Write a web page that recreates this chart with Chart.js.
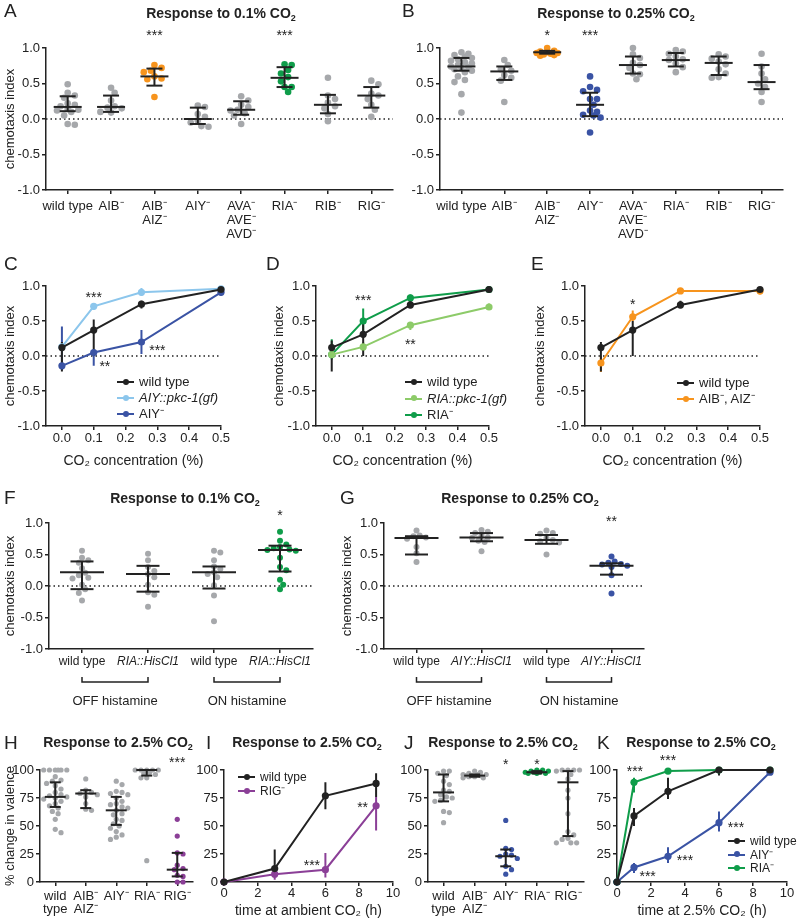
<!DOCTYPE html>
<html>
<head>
<meta charset="utf-8">
<title>Interneuron responses to CO2</title>
<script src="https://cdn.jsdelivr.net/npm/chart.js@4.4.1/dist/chart.umd.min.js"></script>
<style>
  body { margin: 0; background: #fff; }
  #fig { position: relative; width: 800px; height: 924px; overflow: hidden; font-family: "Liberation Sans", Arial, sans-serif; color: #222; }
  #fig canvas { position: absolute; }
  .letter { position: absolute; font-size: 19px; line-height: 19px; }
  .title { position: absolute; font-size: 14px; line-height: 14px; font-weight: bold; white-space: nowrap; transform: translateX(-50%); }
  .title sub { font-size: 9px; line-height: 0; vertical-align: -3px; }
  .legend { position: absolute; font-size: 13px; line-height: 16px; white-space: nowrap; }
  .legend.small { font-size: 12px; }
  .legend .mark { position: absolute; left: 0; top: 7px; width: 17px; height: 2px; }
  .legend .mark::after { content: ''; position: absolute; left: 5.5px; top: -2.5px; width: 6px; height: 6px; border-radius: 50%; background: inherit; }
  .legend .txt { position: absolute; left: 22px; top: 0; }
</style>
</head>
<body>
<div id="fig"></div>
<script>
// ---- tick labels / categories ----
const neuronCats = [['wild type'], ['AIB⁻'], ['AIB⁻', 'AIZ⁻'], ['AIY⁻'], ['AVA⁻', 'AVE⁻', 'AVD⁻'], ['RIA⁻'], ['RIB⁻'], ['RIG⁻']];
const fCats = [['wild type'], ['RIA::HisCl1'], ['wild type'], ['RIA::HisCl1']];
const gCats = [['wild type'], ['AIY::HisCl1'], ['wild type'], ['AIY::HisCl1']];
const valenceCats = [['wild', 'type'], ['AIB⁻', 'AIZ⁻'], ['AIY⁻'], ['RIA⁻'], ['RIG⁻']];
const ciTicks = [-1, -0.5, 0, 0.5, 1];
const pctTicks = [0, 25, 50, 75, 100];
const concX = [0, 0.1, 0.25, 0.5];
const concTicks = [0, 0.1, 0.2, 0.3, 0.4, 0.5];
const timeI = [0, 3, 6, 9];
const timeK = [0, 1, 3, 6, 9];
const timeTicks = [0, 2, 4, 6, 8, 10];

// ---- A: 0.1% CO2 ----
const aPoints = [
  [0.49, 0.37, 0.33, 0.30, 0.22, 0.20, 0.18, 0.14, 0.13, 0.12, 0.10, 0.05, -0.07, -0.08],
  [0.44, 0.37, 0.26, 0.18, 0.16, 0.15, 0.10, 0.09],
  [0.76, 0.72, 0.68, 0.66, 0.60, 0.57, 0.56, 0.31],
  [0.19, 0.17, 0.07, 0.03, -0.02, -0.05, -0.10, -0.11],
  [0.32, 0.26, 0.20, 0.17, 0.13, 0.12, 0.08, 0.05, -0.07],
  [0.77, 0.76, 0.69, 0.64, 0.59, 0.53, 0.45, 0.45, 0.38],
  [0.58, 0.33, 0.28, 0.23, 0.18, 0.15, 0.07, -0.03],
  [0.54, 0.49, 0.36, 0.33, 0.28, 0.20, 0.13, 0.03]
];
const aMedian = [0.17, 0.17, 0.60, 0.00, 0.13, 0.58, 0.20, 0.33];
const aLow = [0.11, 0.10, 0.47, -0.07, 0.06, 0.45, 0.08, 0.16];
const aHigh = [0.32, 0.33, 0.71, 0.16, 0.25, 0.73, 0.34, 0.45];
const aStars = [{x: 2, y: 1.21, text: '***'}, {x: 5, y: 1.21, text: '***'}];

// ---- B: 0.25% CO2 ----
const bPoints = [
  [0.94, 0.92, 0.90, 0.88, 0.86, 0.84, 0.82, 0.80, 0.78, 0.76, 0.74, 0.73, 0.72, 0.70, 0.68, 0.66, 0.60, 0.55, 0.52, 0.35, 0.09],
  [0.83, 0.76, 0.70, 0.68, 0.62, 0.58, 0.54, 0.24],
  [1.00, 0.96, 0.95, 0.94, 0.93, 0.93, 0.92, 0.91, 0.90, 0.89],
  [0.60, 0.45, 0.41, 0.39, 0.28, 0.28, 0.20, 0.12, 0.10, 0.06, 0.05, 0.02, -0.19],
  [1.00, 0.91, 0.86, 0.79, 0.76, 0.72, 0.64, 0.63, 0.56],
  [0.97, 0.95, 0.92, 0.88, 0.84, 0.83, 0.78, 0.73, 0.66],
  [0.91, 0.88, 0.85, 0.81, 0.77, 0.70, 0.64, 0.59, 0.58],
  [0.92, 0.74, 0.64, 0.56, 0.50, 0.45, 0.38, 0.24]
];
const bMedian = [0.74, 0.67, 0.94, 0.20, 0.76, 0.83, 0.79, 0.52];
const bLow = [0.68, 0.55, 0.92, 0.04, 0.64, 0.74, 0.62, 0.42];
const bHigh = [0.86, 0.74, 0.96, 0.37, 0.88, 0.93, 0.88, 0.76];
const bStars = [{x: 2, y: 1.21, text: '*'}, {x: 3, y: 1.21, text: '***'}];

// ---- C: AIY dose response ----
const cWt = [0.12, 0.37, 0.74, 0.95], cWtLo = [-0.22, 0.00, 0.68, 0.92], cWtHi = [0.20, 0.52, 0.79, 0.98];
const cGf = [0.13, 0.71, 0.91, 0.96], cGfLo = [0.10, 0.66, 0.86, 0.93], cGfHi = [0.16, 0.75, 0.97, 0.98];
const cAiy = [-0.14, 0.05, 0.20, 0.91], cAiyLo = [-0.20, -0.14, 0.03, 0.86], cAiyHi = [0.42, 0.08, 0.37, 0.97];
const cStars = [{x: 0.1, y: 0.87, text: '***'}, {x: 0.135, y: -0.11, text: '**'}, {x: 0.3, y: 0.11, text: '***'}];

// ---- D: RIA dose response ----
const dWt = [0.12, 0.31, 0.73, 0.95], dWtLo = [-0.22, 0.00, 0.68, 0.92], dWtHi = [0.22, 0.47, 0.79, 0.98];
const dGf = [0.02, 0.13, 0.44, 0.70], dGfLo = [0.00, 0.07, 0.37, 0.66], dGfHi = [0.05, 0.20, 0.48, 0.75];
const dRia = [0.02, 0.50, 0.83, 0.95], dRiaLo = [-0.05, 0.35, 0.75, 0.92], dRiaHi = [0.24, 0.68, 0.88, 0.98];
const dStars = [{x: 0.1, y: 0.83, text: '***'}, {x: 0.25, y: 0.2, text: '**'}];

// ---- E: AIB/AIZ dose response ----
const eWt = [0.12, 0.37, 0.73, 0.95], eWtLo = [-0.22, 0.00, 0.68, 0.92], eWtHi = [0.20, 0.50, 0.79, 0.98];
const eAib = [-0.10, 0.56, 0.93, 0.93], eAibLo = [-0.23, 0.50, 0.91, 0.88], eAibHi = [0.00, 0.65, 0.95, 0.96];
const eStars = [{x: 0.1, y: 0.77, text: '*'}];

// ---- F: RIA silencing, 0.1% CO2 ----
const fPoints = [
  [0.56, 0.45, 0.41, 0.37, 0.28, 0.21, 0.17, 0.13, 0.12, 0.02, -0.05, -0.11, -0.23],
  [0.51, 0.41, 0.30, 0.24, 0.19, 0.14, 0.02, -0.10, -0.14, -0.33],
  [0.56, 0.53, 0.41, 0.31, 0.27, 0.22, 0.19, 0.14, 0.01, -0.15, -0.56],
  [0.86, 0.72, 0.66, 0.62, 0.60, 0.58, 0.57, 0.56, 0.45, 0.30, 0.25, 0.10, 0.02, -0.05]
];
const fMedian = [0.22, 0.19, 0.22, 0.57];
const fLow = [-0.05, -0.09, -0.04, 0.23];
const fHigh = [0.39, 0.32, 0.31, 0.64];
const fStars = [{x: 3, y: 1.15, text: '*'}];

// ---- G: AIY silencing, 0.25% CO2 ----
const gPoints = [
  [0.88, 0.80, 0.79, 0.77, 0.75, 0.62, 0.52, 0.38],
  [0.89, 0.86, 0.84, 0.80, 0.77, 0.76, 0.72, 0.70, 0.55],
  [0.88, 0.84, 0.83, 0.76, 0.73, 0.71, 0.69, 0.50],
  [0.47, 0.39, 0.37, 0.35, 0.34, 0.32, 0.30, 0.17, -0.12]
];
const gMedian = [0.76, 0.77, 0.73, 0.32];
const gLow = [0.50, 0.71, 0.67, 0.18];
const gHigh = [0.79, 0.84, 0.81, 0.36];
const gStars = [{x: 3, y: 1.06, text: '**'}];
const histGroups = [{from: 0, to: 1, label: 'OFF histamine'}, {from: 2, to: 3, label: 'ON histamine'}];

// ---- H: valence change, 2.5% CO2 ----
const hPoints = [
  [100, 100, 100, 100, 100, 100, 94, 91, 90, 88, 86, 83, 80, 78, 77, 76, 75, 74, 72, 70, 68, 66, 63, 61, 56, 47, 44],
  [92, 82, 80, 79, 78, 76, 70, 65, 64],
  [90, 87, 81, 80, 79, 78, 75, 72, 70, 69, 67, 66, 64, 61, 60, 56, 55, 52, 50, 48, 45, 42, 40, 38],
  [100, 100, 100, 100, 100, 98, 97, 96, 93, 93, 19],
  [56, 41, 26, 25, 15, 12, 11, 6, 5, 0, 0]
];
const hMedian = [76, 79, 64, 100, 11];
const hLow = [67, 66, 51, 95, 5];
const hHigh = [89, 82, 76, 100, 26];
const hStars = [{x: 4, y: 109, text: '***'}];

// ---- I: recovery at ambient CO2 ----
const iWt = [0, 12, 77, 88], iWtLo = [0, 10, 65, 76], iWtHi = [0, 29, 89, 97];
const iRig = [0, 7, 11, 68], iRigLo = [0, 2, 4, 46], iRigHi = [0, 12, 26, 76];
const iStars = [{x: 5.2, y: 17, text: '***'}, {x: 8.2, y: 69, text: '**'}];

// ---- J: valence change, 2.5% CO2 ----
const jPoints = [
  [99, 99, 97, 95, 90, 87, 82, 81, 78, 76, 75, 73, 72, 63, 62, 53],
  [99, 98, 97, 96, 96, 96, 95, 95, 95, 94, 94, 93, 93],
  [55, 30, 29, 25, 24, 23, 21, 14, 11, 7],
  [100, 100, 99, 99, 98, 98, 98, 97, 97, 97],
  [100, 100, 100, 100, 99, 96, 92, 82, 75, 61, 45, 42, 39, 38, 35, 35, 35]
];
const jMedian = [80, 95, 23, 98, 89];
const jLow = [72, 94, 14, 97, 41];
const jHigh = [96, 96, 29, 99, 99];
const jStars = [{x: 2, y: 107, text: '*'}, {x: 3, y: 107, text: '*'}];

// ---- K: time course at 2.5% CO2 ----
const kWt = [0, 59, 81, 100, 100], kWtLo = [0, 50, 74, 95, 100], kWtHi = [0, 66, 93, 100, 100];
const kAiy = [0, 13, 23, 53, 98], kAiyLo = [0, 8, 17, 45, 97], kAiyHi = [0, 17, 31, 63, 99];
const kRia = [0, 89, 99, 100, 100], kRiaLo = [0, 80, 98, 100, 100], kRiaHi = [0, 93, 100, 100, 100];
const kStars = [{x: 1.05, y: 101, text: '***'}, {x: 3, y: 111, text: '***'}, {x: 7, y: 51, text: '***'},
                {x: 4, y: 21, text: '***'}, {x: 1.8, y: 7, text: '***'}];

// ---- styling ----
const INK = '#222';
const GRAY = '#a6a8ab', ORANGE = '#f7941d', GREEN = '#0f9d4a', BLUE = '#3a53a4',
      LIGHTBLUE = '#8cc6ec', LIGHTGREEN = '#8dcb69', PURPLE = '#8b3f97';
const FONT = '"Liberation Sans", Arial, sans-serif';
Chart.defaults.font.family = FONT;
Chart.defaults.color = INK;

const fig = document.getElementById('fig');

// zero line, significance stars and group brackets, all placed through the chart scales
const annotate = {
  id: 'annotate',
  beforeDatasetsDraw(chart, args, opts) {
    if (!opts.zero) return;
    const {ctx, chartArea: a, scales: {y}} = chart;
    const py = y.getPixelForValue(0);
    ctx.save();
    ctx.strokeStyle = INK;
    ctx.lineWidth = 1.5;
    ctx.setLineDash([1.5, 3]);
    ctx.beginPath();
    ctx.moveTo(a.left, py);
    ctx.lineTo(a.right, py);
    ctx.stroke();
    ctx.restore();
  },
  afterDatasetsDraw(chart, args, opts) {
    const {ctx, chartArea: a, scales: {x, y}} = chart;
    ctx.save();
    ctx.fillStyle = INK;
    ctx.strokeStyle = INK;
    ctx.lineWidth = 1.5;
    ctx.textAlign = 'center';
    ctx.textBaseline = 'middle';
    ctx.font = '14px ' + FONT;
    (opts.stars || []).forEach(s => {
      ctx.fillText(s.text, x.getPixelForValue(s.x), y.getPixelForValue(s.y) + 3);
    });
    ctx.font = '13px ' + FONT;
    (opts.brackets || []).forEach(g => {
      const x0 = x.getPixelForValue(g.from), x1 = x.getPixelForValue(g.to);
      const yb = a.bottom + 33;
      ctx.beginPath();
      ctx.moveTo(x0, yb - 5);
      ctx.lineTo(x0, yb);
      ctx.lineTo(x1, yb);
      ctx.lineTo(x1, yb - 5);
      ctx.stroke();
      ctx.fillText(g.label, (x0 + x1) / 2, a.bottom + 52);
    });
    ctx.restore();
  }
};

// horizontal spread of dots (beeswarm), kept within +-limit px of the category centre
function swarm(values, pxPerUnit, dot, limit) {
  const placed = [];
  const offsets = new Array(values.length);
  const minDist = dot * 0.85;
  const order = values.map((v, i) => i).sort((a, b) => values[b] - values[a]);
  order.forEach(i => {
    const py = values[i] * pxPerUnit;
    let best = 0, bestDist = -1;
    for (let k = 0; ; k++) {
      const dx = (k % 2 ? 1 : -1) * Math.ceil(k / 2) * dot * 0.5;
      if (Math.abs(dx) > limit) break;
      const d = placed.reduce((m, p) => Math.min(m, Math.hypot(p.x - dx, p.y - py)), Infinity);
      if (d >= minDist) { best = dx; bestDist = d; break; }
      if (d > bestDist) { best = dx; bestDist = d; }
    }
    placed.push({x: best, y: py});
    offsets[i] = best;
  });
  return offsets;
}

function axis(o) {
  return {
    type: 'linear', min: o.min, max: o.max,
    afterBuildTicks: s => { s.ticks = o.ticks.map(v => ({value: v})); },
    afterFit: o.fit,
    grid: {display: true, drawOnChartArea: false, drawTicks: true, tickLength: 4, color: INK, lineWidth: 1.5},
    border: {display: true, color: INK, width: 1.5},
    ticks: {color: INK, padding: o.pad, autoSkip: false, maxRotation: 0, minRotation: 0,
            font: o.font, callback: o.label},
    title: o.title ? {display: true, text: o.title, color: INK, padding: 0, font: {size: o.titleSize}} : {display: false}
  };
}

function mount(p, datasets) {
  const left = Math.round(p.yTitleX ? p.yTitleX - 7.8 : p.box.l - 34);
  const top = Math.round(p.box.t - p.padT);
  const width = Math.round(p.box.r + (p.padR || 12) - left);
  const height = Math.round(p.box.b + p.xH - top);
  const canvas = document.createElement('canvas');
  canvas.width = width;
  canvas.height = height;
  canvas.style.left = left + 'px';
  canvas.style.top = top + 'px';
  canvas.style.width = width + 'px';
  canvas.style.height = height + 'px';
  fig.appendChild(canvas);

  const xAxis = axis({
    min: p.xMin, max: p.xMax, ticks: p.xTicks, pad: p.xPad,
    font: p.xFont, label: p.xLabel, title: p.xTitle, titleSize: 14,
    fit: s => { s.height = top + height - p.box.b; }
  });
  const yAxis = axis({
    min: p.yMin, max: p.yMax, ticks: p.yTicks, pad: 2,
    font: {size: 13}, label: p.yLabel, title: p.yTitle, titleSize: 13,
    fit: s => { s.width = p.box.l - left; }
  });
  datasets.forEach(d => { d.clip = false; });

  return new Chart(canvas, {
    type: 'scatter',
    data: {datasets},
    options: {
      responsive: false, animation: false, devicePixelRatio: 1, events: [],
      layout: {padding: {top: p.box.t - top, right: left + width - p.box.r, left: 0, bottom: 0}},
      scales: {x: xAxis, y: yAxis},
      plugins: {
        legend: {display: false}, tooltip: {enabled: false},
        annotate: {zero: !!p.zero, stars: p.stars || [], brackets: p.brackets || []}
      }
    },
    plugins: [annotate]
  });
}

function dotPanel(p) {
  const n = p.cats.length;
  const catPx = (p.box.r - p.box.l) / n;
  const pxPerUnit = (p.box.b - p.box.t) / (p.yMax - p.yMin);
  const dots = [];
  p.points.forEach((vals, i) => {
    const off = swarm(vals, pxPerUnit, 2 * p.dotR + 0.6, p.spread);
    vals.forEach((v, k) => dots.push({x: i + off[k] / catPx, y: v, c: i}));
  });
  const medians = p.median.map((m, i) => ({x: i, y: m}));
  const caps = [], whiskers = [];
  p.low.forEach((lo, i) => {
    caps.push({x: i, y: lo}, {x: i, y: p.high[i]});
    whiskers.push({x: i, y: lo}, {x: i, y: p.high[i]}, {x: i, y: null});
  });
  const datasets = [
    {data: medians, pointStyle: 'line', pointRadius: p.medHalf, pointBorderWidth: 2, pointBorderColor: INK},
    {data: caps, pointStyle: 'line', pointRadius: p.capHalf, pointBorderWidth: 2, pointBorderColor: INK},
    {data: whiskers, showLine: true, borderColor: INK, borderWidth: 2, pointRadius: 0},
    {data: dots, pointRadius: p.dotR, pointBorderWidth: 0,
     pointBackgroundColor: ctx => ctx.raw ? p.colors[ctx.raw.c] : GRAY}
  ];
  p.xMin = -0.5;
  p.xMax = n - 0.5;
  p.xTicks = p.cats.map((c, i) => i);
  p.xLabel = v => p.cats[v];
  return mount(p, datasets);
}

function linePanel(p) {
  const datasets = [];
  p.series.forEach(s => datasets.push({
    data: s.y.map((v, i) => ({x: p.xs[i], y: v})),
    showLine: true, borderColor: s.color, borderWidth: 2,
    pointRadius: 3.6, pointBackgroundColor: s.color, pointBorderWidth: 0
  }));
  p.series.forEach(s => {
    const seg = [];
    s.lo.forEach((lo, i) => seg.push({x: p.xs[i], y: lo}, {x: p.xs[i], y: s.hi[i]}, {x: p.xs[i], y: null}));
    datasets.push({data: seg, showLine: true, borderColor: s.color, borderWidth: 2, pointRadius: 0});
  });
  return mount(p, datasets);
}

const ci = v => v.toFixed(1);
const pct = v => String(v);

// A
dotPanel({
  box: {l: 46, t: 48, r: 397, b: 190}, yTitleX: 11, padT: 40, xH: 60,
  cats: neuronCats, points: aPoints, median: aMedian, low: aLow, high: aHigh,
  colors: [GRAY, GRAY, ORANGE, GRAY, GRAY, GREEN, GRAY, GRAY],
  dotR: 3.3, medHalf: 14, capHalf: 8, spread: 13,
  yMin: -1, yMax: 1, yTicks: ciTicks, yLabel: ci, yTitle: 'chemotaxis index',
  xPad: 5, xFont: {size: 13, lineHeight: 1.1}, zero: true, stars: aStars
});
// B
dotPanel({
  box: {l: 440, t: 48, r: 795, b: 190}, padT: 40, xH: 60, padR: 4,
  cats: neuronCats, points: bPoints, median: bMedian, low: bLow, high: bHigh,
  colors: [GRAY, GRAY, ORANGE, BLUE, GRAY, GRAY, GRAY, GRAY],
  dotR: 3.3, medHalf: 14, capHalf: 8, spread: 13,
  yMin: -1, yMax: 1, yTicks: ciTicks, yLabel: ci,
  xPad: 5, xFont: {size: 13, lineHeight: 1.1}, zero: true, stars: bStars
});
// C
linePanel({
  box: {l: 46, t: 286, r: 221, b: 426}, yTitleX: 11, padT: 15, xH: 44.4,
  xs: concX, xMin: -0.05, xMax: 0.5, xTicks: concTicks, xLabel: ci, xPad: 1, xFont: {size: 13},
  xTitle: 'CO₂ concentration (%)',
  yMin: -1, yMax: 1, yTicks: ciTicks, yLabel: ci, yTitle: 'chemotaxis index', zero: true, stars: cStars,
  series: [
    {y: cWt, lo: cWtLo, hi: cWtHi, color: INK},
    {y: cGf, lo: cGfLo, hi: cGfHi, color: LIGHTBLUE},
    {y: cAiy, lo: cAiyLo, hi: cAiyHi, color: BLUE}
  ]
});
// D
linePanel({
  box: {l: 316, t: 286, r: 489, b: 426}, yTitleX: 280, padT: 15, xH: 44.4,
  xs: concX, xMin: -0.05, xMax: 0.5, xTicks: concTicks, xLabel: ci, xPad: 1, xFont: {size: 13},
  xTitle: 'CO₂ concentration (%)',
  yMin: -1, yMax: 1, yTicks: ciTicks, yLabel: ci, yTitle: 'chemotaxis index', zero: true, stars: dStars,
  series: [
    {y: dWt, lo: dWtLo, hi: dWtHi, color: INK},
    {y: dGf, lo: dGfLo, hi: dGfHi, color: LIGHTGREEN},
    {y: dRia, lo: dRiaLo, hi: dRiaHi, color: GREEN}
  ]
});
// E
linePanel({
  box: {l: 585, t: 286, r: 760, b: 426}, yTitleX: 541, padT: 15, xH: 44.4,
  xs: concX, xMin: -0.05, xMax: 0.5, xTicks: concTicks, xLabel: ci, xPad: 1, xFont: {size: 13},
  xTitle: 'CO₂ concentration (%)',
  yMin: -1, yMax: 1, yTicks: ciTicks, yLabel: ci, yTitle: 'chemotaxis index', zero: true, stars: eStars,
  series: [
    {y: eWt, lo: eWtLo, hi: eWtHi, color: INK},
    {y: eAib, lo: eAibLo, hi: eAibHi, color: ORANGE}
  ]
});
// F
dotPanel({
  box: {l: 49, t: 519, r: 325, b: 649}, yTitleX: 11, padT: 20, xH: 62,
  cats: fCats, points: fPoints, median: fMedian, low: fLow, high: fHigh,
  colors: [GRAY, GRAY, GRAY, GREEN],
  dotR: 3, medHalf: 22, capHalf: 11.5, spread: 18,
  yMin: -1, yMax: 1, yTicks: ciTicks, yLabel: ci, yTitle: 'chemotaxis index',
  xPad: 1, xFont: ctx => ({size: 12, style: ctx.index % 2 ? 'italic' : 'normal'}),
  zero: true, stars: fStars, brackets: histGroups
});
// G
dotPanel({
  box: {l: 384, t: 519, r: 656, b: 649}, yTitleX: 348, padT: 20, xH: 62,
  cats: gCats, points: gPoints, median: gMedian, low: gLow, high: gHigh,
  colors: [GRAY, GRAY, GRAY, BLUE],
  dotR: 3, medHalf: 22, capHalf: 11.5, spread: 18,
  yMin: -1, yMax: 1, yTicks: ciTicks, yLabel: ci, yTitle: 'chemotaxis index',
  xPad: 1, xFont: ctx => ({size: 12, style: ctx.index % 2 ? 'italic' : 'normal'}),
  zero: true, stars: gStars, brackets: histGroups
});
// H
dotPanel({
  box: {l: 40, t: 770, r: 193, b: 882}, yTitleX: 11, padT: 25, xH: 40,
  cats: valenceCats, points: hPoints, median: hMedian, low: hLow, high: hHigh,
  colors: [GRAY, GRAY, GRAY, GRAY, PURPLE],
  dotR: 2.6, medHalf: 10.5, capHalf: 5.5, spread: 12,
  yMin: 0, yMax: 100, yTicks: pctTicks, yLabel: pct, yTitle: '% change in valence',
  xPad: 4, xFont: {size: 13, lineHeight: 1.0}, stars: hStars
});
// I
linePanel({
  box: {l: 224, t: 770, r: 393, b: 882}, padT: 25, xH: 38.4,
  xs: timeI, xMin: 0, xMax: 10, xTicks: timeTicks, xLabel: pct, xPad: 0, xFont: {size: 13},
  xTitle: 'time at ambient CO₂ (h)',
  yMin: 0, yMax: 100, yTicks: pctTicks, yLabel: pct, stars: iStars,
  series: [
    {y: iWt, lo: iWtLo, hi: iWtHi, color: INK},
    {y: iRig, lo: iRigLo, hi: iRigHi, color: PURPLE}
  ]
});
// J
dotPanel({
  box: {l: 428, t: 770, r: 584, b: 882}, padT: 25, xH: 40,
  cats: valenceCats, points: jPoints, median: jMedian, low: jLow, high: jHigh,
  colors: [GRAY, GRAY, BLUE, GREEN, GRAY],
  dotR: 2.6, medHalf: 10.5, capHalf: 5.5, spread: 12,
  yMin: 0, yMax: 100, yTicks: pctTicks, yLabel: pct,
  xPad: 4, xFont: {size: 13, lineHeight: 1.0}, stars: jStars
});
// K
linePanel({
  box: {l: 617, t: 770, r: 787, b: 882}, padT: 25, xH: 38.4,
  xs: timeK, xMin: 0, xMax: 10, xTicks: timeTicks, xLabel: pct, xPad: 0, xFont: {size: 13},
  xTitle: 'time at 2.5% CO₂ (h)',
  yMin: 0, yMax: 100, yTicks: pctTicks, yLabel: pct, stars: kStars,
  series: [
    {y: kWt, lo: kWtLo, hi: kWtHi, color: INK},
    {y: kAiy, lo: kAiyLo, hi: kAiyHi, color: BLUE},
    {y: kRia, lo: kRiaLo, hi: kRiaHi, color: GREEN}
  ]
});

// ---- panel letters, titles, legends ----
function addText(cls, x, y, html) {
  const d = document.createElement('div');
  d.className = cls;
  d.style.left = x + 'px';
  d.style.top = y + 'px';
  d.innerHTML = html;
  fig.appendChild(d);
}
function addLegend(x, y, step, items, cls) {
  items.forEach((it, i) => {
    const row = document.createElement('div');
    row.className = 'legend' + (cls ? ' ' + cls : '');
    row.style.left = x + 'px';
    row.style.top = (y + i * step - 8) + 'px';
    row.innerHTML = '<div class="mark" style="background:' + it.color + '"></div><span class="txt">' + it.label + '</span>';
    fig.appendChild(row);
  });
}

[['A', 4, 1], ['B', 402, 1], ['C', 4, 254], ['D', 266, 254], ['E', 531, 254],
 ['F', 4, 488], ['G', 340, 488], ['H', 4, 733], ['I', 206, 733], ['J', 404, 733], ['K', 597, 733]]
  .forEach(([t, x, y]) => addText('letter', x, y, t));

[['Response to 0.1% CO<sub>2</sub>', 221, 6], ['Response to 0.25% CO<sub>2</sub>', 616, 6],
 ['Response to 0.1% CO<sub>2</sub>', 185, 491], ['Response to 0.25% CO<sub>2</sub>', 520, 491],
 ['Response to 2.5% CO<sub>2</sub>', 118, 735], ['Response to 2.5% CO<sub>2</sub>', 307, 735],
 ['Response to 2.5% CO<sub>2</sub>', 503, 735], ['Response to 2.5% CO<sub>2</sub>', 701, 735]]
  .forEach(([t, x, y]) => addText('title', x, y, t));

addLegend(117, 382, 16, [
  {label: 'wild type', color: INK}, {label: '<i>AIY::pkc-1(gf)</i>', color: LIGHTBLUE}, {label: 'AIY⁻', color: BLUE}
]);
addLegend(405, 382, 16.5, [
  {label: 'wild type', color: INK}, {label: '<i>RIA::pkc-1(gf)</i>', color: LIGHTGREEN}, {label: 'RIA⁻', color: GREEN}
]);
addLegend(677, 383, 16, [
  {label: 'wild type', color: INK}, {label: 'AIB⁻, AIZ⁻', color: ORANGE}
]);
addLegend(238, 777, 14, [
  {label: 'wild type', color: INK}, {label: 'RIG⁻', color: PURPLE}
], 'small');
addLegend(728, 841, 13.5, [
  {label: 'wild type', color: INK}, {label: 'AIY⁻', color: BLUE}, {label: 'RIA⁻', color: GREEN}
], 'small');
</script>
</body>
</html>
